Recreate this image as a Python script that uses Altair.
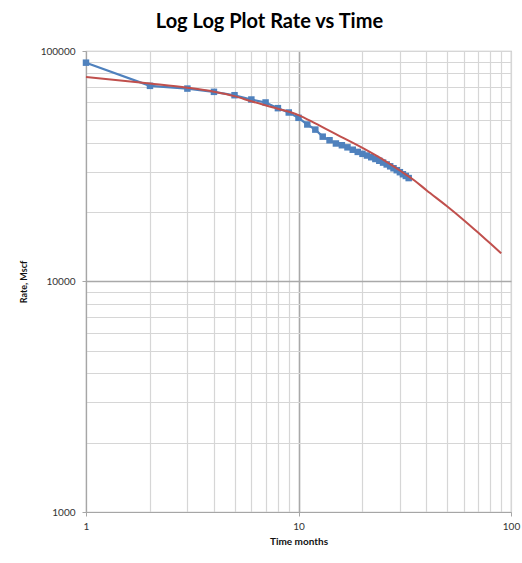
import altair as alt
import pandas as pd

# Measured production (blue squares)
months = list(range(1, 34))
rate = [89000, 70600, 68700, 66500, 64300, 61600, 59800, 56500, 54100, 51300,
        48000, 45600, 42500, 41000, 39700, 39000, 38200, 37300, 36500, 35800,
        35200, 34600, 34000, 33400, 32800, 32200, 31600, 31000, 30400, 29800,
        29200, 28700, 28100]

# Fitted decline curve (red line)
fit_months = [1, 2, 3, 4, 5, 6, 8, 10, 12, 15, 20, 25, 30, 35, 40, 50, 60, 70, 80, 90]
fit_rate = [77200, 72300, 69300, 66600, 63700, 60500, 56200, 52700, 48500, 43600,
            38000, 33800, 30300, 27500, 24900, 21200, 18450, 16300, 14600, 13250]

x_grid = [1, 2, 3, 4, 5, 6, 7, 8, 9, 10, 20, 30, 40, 50, 60, 70, 80, 90, 100]
y_grid = [1000, 2000, 3000, 4000, 5000, 6000, 7000, 8000, 9000,
          10000, 20000, 30000, 40000, 50000, 60000, 70000, 80000, 90000, 100000]

obs = pd.DataFrame({"t": months, "q": rate})
fit = pd.DataFrame({"t": fit_months, "q": fit_rate})

FONT = "Lato"
x_dec = "datum.value == 1 || datum.value == 10 || datum.value == 100"
y_dec = "datum.value == 1000 || datum.value == 10000 || datum.value == 100000"

x_axis = alt.Axis(
    values=x_grid, format="d", title="Time months",
    labelExpr=f"({x_dec}) ? datum.label : ''",
    labelOverlap=False, labelFlush=False,
    labelFont=FONT, labelFontSize=10, labelColor="#333333", labelPadding=5,
    titleFont=FONT, titleFontSize=10, titleFontWeight="bold", titleColor="#111111",
    titlePadding=5,
    grid=True,
    gridColor={"condition": {"test": "datum.value == 10", "value": "#a9a9a9"}, "value": "#d6d6d6"},
    gridWidth={"condition": {"test": "datum.value == 10", "value": 1.6}, "value": 1.2},
    tickOpacity={"condition": {"test": x_dec, "value": 1}, "value": 0},
    tickSize=4, tickColor="#a6a6a6", domainColor="#a6a6a6", domainWidth=1.2,
)
y_axis = alt.Axis(
    values=y_grid, format="d", title="Rate, Mscf",
    labelExpr=f"({y_dec}) ? datum.label : ''",
    labelOverlap=False, labelFlush=False,
    labelFont=FONT, labelFontSize=10, labelColor="#333333", labelPadding=7,
    titleFont=FONT, titleFontSize=9, titleFontWeight="bold", titleColor="#111111",
    titlePadding=12,
    grid=True,
    gridColor={"condition": {"test": "datum.value == 10000", "value": "#a9a9a9"}, "value": "#d6d6d6"},
    gridWidth={"condition": {"test": "datum.value == 10000", "value": 1.6}, "value": 1.2},
    tickOpacity={"condition": {"test": y_dec, "value": 1}, "value": 0},
    tickSize=4, tickColor="#a6a6a6", domainColor="#a6a6a6", domainWidth=1.2,
)

xenc = alt.X("t:Q", scale=alt.Scale(type="log", domain=[1, 100]), axis=x_axis)
yenc = alt.Y("q:Q", scale=alt.Scale(type="log", domain=[1000, 100000]), axis=y_axis)

blue_line = alt.Chart(obs).mark_line(color="#4f81bd", strokeWidth=2.2).encode(x=xenc, y=yenc)
blue_pts = alt.Chart(obs).mark_square(color="#4f81bd", size=42, opacity=1).encode(x=xenc, y=yenc)
red_line = alt.Chart(fit).mark_line(color="#c0504d", strokeWidth=2, interpolate="monotone").encode(x=xenc, y=yenc)

chart = (
    alt.layer(blue_line, blue_pts, red_line)
    .properties(
        width=425, height=461,
        title=alt.Title("Log Log Plot Rate vs Time", font=FONT, fontSize=20,
                        fontWeight="bold", color="#000000", offset=14,
                        anchor="middle", frame="bounds"),
        autosize=alt.AutoSizeParams(type="none"),
        padding={"left": 86, "top": 51, "right": 11, "bottom": 51},
        background="white",
    )
    .configure_view(stroke="#bfbfbf", strokeWidth=1.2)
)

chart.save("out.html", embed_options={"renderer": "svg", "actions": False})
